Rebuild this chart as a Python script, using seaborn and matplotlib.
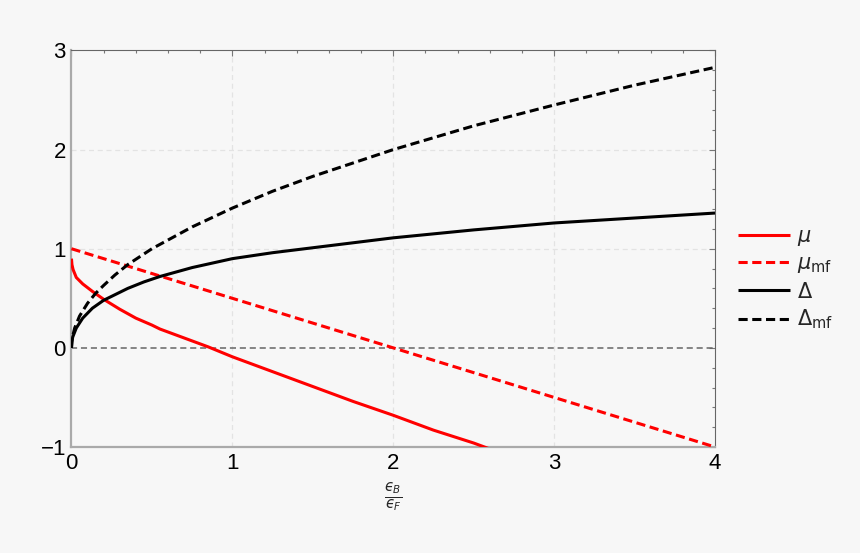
import matplotlib
matplotlib.use("Agg")
import matplotlib.pyplot as plt
from matplotlib.ticker import MultipleLocator
import pandas as pd
import seaborn as sns

# values
x_mu = [0, 0.003, 0.01, 0.03, 0.07, 0.13, 0.2, 0.25, 0.3, 0.4, 0.5, 0.55, 0.7,
        0.85, 1.0, 1.25, 1.5, 1.75, 2.0, 2.25, 2.5, 2.6]
mu = [0.90, 0.84, 0.79, 0.71, 0.645, 0.57, 0.49, 0.44, 0.39, 0.30, 0.23, 0.19,
      0.10, 0.01, -0.09, -0.24, -0.39, -0.54, -0.68, -0.83, -0.96, -1.02]

x_mu_mf = [0, 2, 4]
mu_mf = [1.0, 0.0, -1.0]

x_delta = [0, 0.002, 0.008, 0.03, 0.07, 0.13, 0.2, 0.25, 0.35, 0.45, 0.55,
           0.75, 1.0, 1.25, 1.5, 2.0, 2.5, 3.0, 3.5, 4.0]
delta = [0, 0.06, 0.11, 0.20, 0.30, 0.40, 0.48, 0.52, 0.60, 0.665, 0.72,
         0.81, 0.90, 0.96, 1.01, 1.11, 1.19, 1.26, 1.31, 1.36]

x_delta_mf = [0, 0.005, 0.02, 0.05, 0.1, 0.15, 0.2, 0.27, 0.35, 0.5, 0.75,
              1.0, 1.25, 1.5, 2.0, 2.5, 3.0, 3.5, 4.0]
delta_mf = [0, 0.10, 0.20, 0.32, 0.45, 0.55, 0.63, 0.735, 0.84, 1.0, 1.22,
            1.41, 1.58, 1.73, 2.0, 2.24, 2.45, 2.65, 2.83]

labels = [r"$\mu$", r"$\mu_{\mathrm{mf}}$", r"$\Delta$", r"$\Delta_{\mathrm{mf}}$"]

BG = "#f7f7f7"
sns.set_style("white", {"axes.facecolor": BG, "figure.facecolor": BG})
plt.rcParams["font.family"] = ["Liberation Sans", "DejaVu Sans"]
plt.rcParams["mathtext.fontset"] = "dejavusans"
plt.rcParams["lines.solid_capstyle"] = "butt"

fig = plt.figure(figsize=(8.6, 5.53), dpi=100)
ax = fig.add_axes([0.0831, 0.1917, 0.7483, 0.717])

# grid + zero line
for gx in [1, 2, 3]:
    ax.axvline(gx, color="#e3e3e3", lw=0.9, ls=(0, (4, 3)), zorder=0)
for gy in [1, 2]:
    ax.axhline(gy, color="#e3e3e3", lw=0.9, ls=(0, (4, 3)), zorder=0)
ax.axhline(0, color="#666666", lw=1.1, ls=(0, (4, 2.5)), zorder=1)

dash = (0, (3.0, 1.5))
series = [
    (x_mu, mu, "#ff0000", "-"),
    (x_mu_mf, mu_mf, "#ff0000", dash),
    (x_delta, delta, "black", "-"),
    (x_delta_mf, delta_mf, "black", dash),
]
for (xs, ys, col, ls), lab in zip(series, labels):
    df = pd.DataFrame({"x": xs, "y": ys})
    sns.lineplot(data=df, x="x", y="y", ax=ax, color=col, linestyle=ls,
                 lw=2.2, label=lab, zorder=3)

ax.set_xlim(0, 4)
ax.set_ylim(-1, 3)
ax.xaxis.set_major_locator(MultipleLocator(1))
ax.xaxis.set_minor_locator(MultipleLocator(0.2))
ax.yaxis.set_major_locator(MultipleLocator(1))
ax.yaxis.set_minor_locator(MultipleLocator(0.2))
ax.tick_params(which="both", direction="in", top=True, right=True,
               color="#777777", width=0.8)
ax.tick_params(which="major", length=4.5, labelsize=16, pad=4,
               labelcolor="black")
ax.tick_params(which="minor", length=2.2)

for side in ["left", "bottom"]:
    ax.spines[side].set_color("#aaaaaa")
    ax.spines[side].set_linewidth(1.6)
for side in ["top", "right"]:
    ax.spines[side].set_color("#666666")
    ax.spines[side].set_linewidth(0.8)

ax.set_xlabel(r"$\frac{ϵ_B}{ϵ_F}$", fontsize=15, labelpad=5)
ax.set_ylabel("")

leg = ax.legend(loc="center left", bbox_to_anchor=(0.849, 0.495),
                bbox_transform=fig.transFigure, frameon=False, fontsize=15,
                handlelength=2.45, handletextpad=0.35, labelspacing=0.3,
                borderaxespad=0)

fig.savefig("out.png", dpi=100, facecolor=BG)
